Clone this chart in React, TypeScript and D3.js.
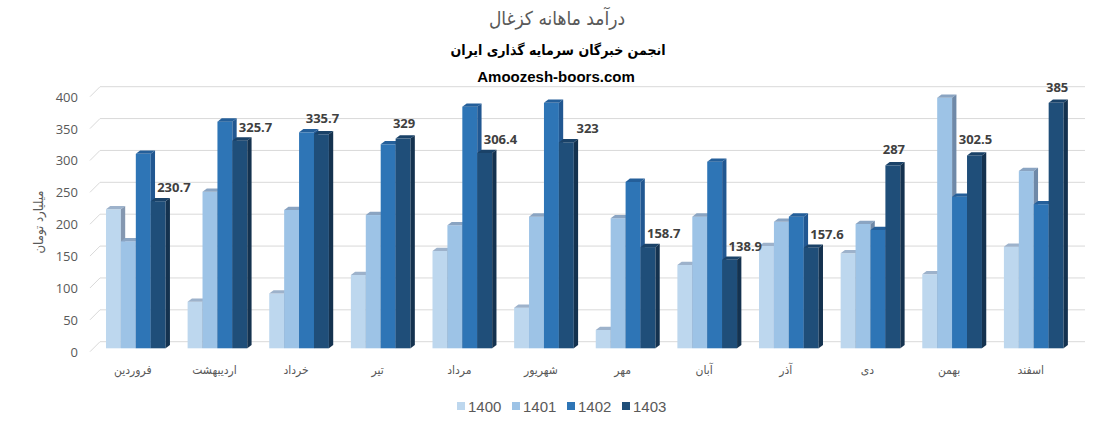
import React from 'react';
import * as d3 from 'd3';

const months = ['فروردین', 'اردیبهشت', 'خرداد', 'تیر', 'مرداد', 'شهریور', 'مهر', 'آبان', 'آذر', 'دی', 'بهمن', 'اسفند'];
const years = ['1400', '1401', '1402', '1403'];
const s1400 = [218, 73, 86, 115, 152.6, 63.7, 28.7, 130.7, 160.5, 149, 116, 159.4];
const s1401 = [168, 245.6, 217, 209, 193, 206.5, 204, 206.5, 198.6, 195, 393, 278];
const s1402 = [305, 355.5, 338.8, 320, 379, 385, 261, 292.7, 206.5, 185.6, 237.8, 226];
const s1403 = [230.7, 325.7, 335.7, 329, 306.4, 323, 158.7, 138.9, 157.6, 287, 302.5, 385];
const yTicks = [0, 50, 100, 150, 200, 250, 300, 350, 400];

const series = [s1400, s1401, s1402, s1403];
const frontColors = ['#BDD7EE', '#9DC3E6', '#2E75B6', '#1F4E79'];
const topColors = ['#9DB2CB', '#8AA4C2', '#245F9A', '#1A4268'];
const sideColors = ['#8497B0', '#6F89A8', '#215791', '#14324F'];

const faFont = '"DejaVu Sans Condensed", "DejaVu Sans", sans-serif';
const numFont = '"Open Sans", "DejaVu Sans", sans-serif';
const narrowFont = '"Liberation Sans Narrow", "Liberation Sans", sans-serif';

export default function App() {
  const W = 1110;
  const H = 422;
  const base = 348.3;
  const dx = 4.3;
  const dy = 3.3;

  const x = d3.scaleBand<string>()
    .domain(months)
    .range([95, 95 + 12 * 81.63])
    .paddingInner(0.269)
    .paddingOuter(0.1345);
  const bw = x.bandwidth() / years.length;

  const y = d3.scaleLinear().domain([0, 400]).range([base, base - 255]);

  const label403 = (i: number) => {
    const v = s1403[i];
    const bx = (x(months[i]) as number) + 3 * bw;
    const top = y(v);
    if (s1402[i] > v + 10) {
      return { x: bx + bw + 25, y: top - 14, anchor: 'end' };
    }
    return { x: bx + bw / 2 + 1, y: top - 16, anchor: 'middle' };
  };

  return (
    <svg width={W} height={H} style={{ position: 'fixed', left: 0, top: 0, background: '#fff' }}>
      {/* titles */}
      <text x={557} y={18} textAnchor="middle" dominantBaseline="central" fontFamily={faFont} fontSize={19} fill="#595959">
        درآمد ماهانه کزغال
      </text>
      <text x={558} y={50} textAnchor="middle" dominantBaseline="central" fontFamily={faFont} fontSize={14} fontWeight="bold" fill="#000">
        انجمن خبرگان سرمایه گذاری ایران
      </text>
      <text x={556} y={76} textAnchor="middle" dominantBaseline="central" fontFamily='"Liberation Sans", Arial, sans-serif' fontSize={15} fontWeight="bold" fill="#000">
        Amoozesh-boors.com
      </text>

      {/* gridlines */}
      {yTicks.map(t => (
        <g key={t}>
          <path
            d={`M90,${y(t) + 3.4}L100,${y(t) - 6.6}L1085,${y(t) - 6.6}`}
            fill="none"
            stroke="#D9D9D9"
            strokeWidth={1}
          />
          <text x={78} y={y(t) + 3.4} textAnchor="end" dominantBaseline="central" fontFamily={numFont} fontSize={13} fill="#595959">
            {t}
          </text>
        </g>
      ))}

      {/* y title */}
      <text
        transform="translate(38,222) rotate(-90)"
        textAnchor="middle"
        dominantBaseline="central"
        fontFamily={faFont}
        fontSize={13}
        fill="#595959"
      >
        میلیارد تومان
      </text>

      {/* bars */}
      {months.map((m, i) => (
        <g key={m}>
          {series.map((s, k) => {
            const bx = (x(m) as number) + k * bw;
            const t = y(s[i]);
            return (
              <g key={k}>
                <rect x={bx} y={t} width={bw} height={base - t} fill={frontColors[k]} />
                <path
                  d={`M${bx},${t}L${bx + dx},${t - dy}L${bx + bw + dx},${t - dy}L${bx + bw},${t}Z`}
                  fill={topColors[k]}
                />
                <path
                  d={`M${bx + bw},${t}L${bx + bw + dx},${t - dy}L${bx + bw + dx},${base - dy}L${bx + bw},${base}Z`}
                  fill={sideColors[k]}
                />
              </g>
            );
          })}
        </g>
      ))}

      {/* data labels 1403 */}
      {months.map((m, i) => {
        const l = label403(i);
        return (
          <text
            key={m}
            x={l.x}
            y={l.y}
            textAnchor={l.anchor as any}
            dominantBaseline="central"
            fontFamily={numFont}
            fontSize={13}
            fontWeight="bold"
            fill="#404040"
          >
            {s1403[i]}
          </text>
        );
      })}

      {/* x labels */}
      {months.map(m => (
        <text
          key={m}
          x={(x(m) as number) + x.bandwidth() / 2 - 3}
          y={370}
          textAnchor="middle"
          dominantBaseline="central"
          fontFamily={faFont}
          fontSize={12}
          fill="#595959"
        >
          {m}
        </text>
      ))}

      {/* legend */}
      {years.map((yr, k) => (
        <g key={yr} transform={`translate(${457 + k * 55},406)`}>
          <rect x={0} y={-4} width={8} height={8} fill={frontColors[k]} />
          <text x={11} y={0} dominantBaseline="central" fontFamily={narrowFont} fontSize={15} fill="#595959">
            {yr}
          </text>
        </g>
      ))}
    </svg>
  );
}
